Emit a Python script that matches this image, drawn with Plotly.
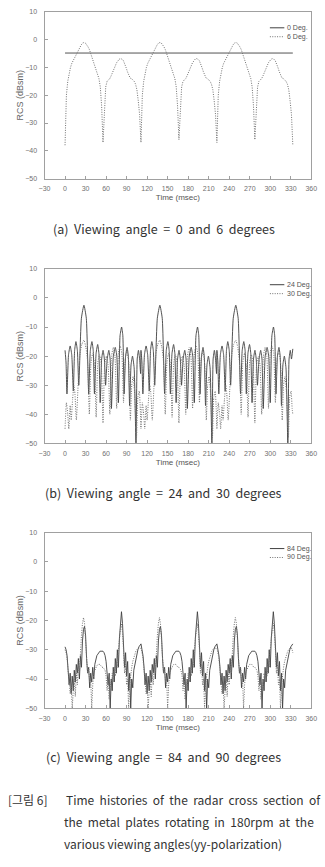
import numpy as np
import plotly.graph_objects as go

# ---------------- data ----------------
x_ticks = [-30, 0, 30, 60, 90, 120, 150, 180, 210, 240, 270, 300, 330, 360]
y_ticks = [-50, -40, -30, -20, -10, 0, 10]

# (a) 0 deg: flat line
a0_x = [0, 333]
a0_y = [-4.8, -4.8]
# (a) 6 deg, sampled every 111/56 ms from 0 to 333 ms
a6_y = [
    -38, -20, -15, -12, -10, -8.5, -7.5, -6.5, -5.5, -4.5, -3.5, -2.5, -1.8, -1.2,
    -1.0, -1.2, -1.8, -2.6, -3.6, -5, -6.5, -8, -9.5, -11, -12.5, -14, -17, -24,
    -37, -24, -17, -15, -14.5, -14, -13, -12, -11, -9.5, -8.3, -7.5, -7, -6.8,
    -7, -7.5, -8.5, -10, -11.5, -13, -13.8, -14, -14.5, -15, -16, -18, -22, -27,
    -37, -20, -15, -12, -10, -8.5, -7.5, -6.5, -5.5, -4.5, -3.5, -2.5, -1.8, -1.2,
    -1.0, -1.2, -1.8, -2.6, -3.6, -5, -6.5, -8, -9.5, -11, -12.5, -14, -17, -24,
    -36, -24, -17, -15, -14.5, -14, -13, -12, -11, -9.5, -8.3, -7.5, -7, -6.8,
    -7, -7.5, -8.5, -10, -11.5, -13, -13.8, -14, -14.5, -15, -16, -18, -22, -27,
    -37, -20, -15, -12, -10, -8.5, -7.5, -6.5, -5.5, -4.5, -3.5, -2.5, -1.8, -1.2,
    -1.0, -1.2, -1.8, -2.6, -3.6, -5, -6.5, -8, -9.5, -11, -12.5, -14, -17, -24,
    -36, -24, -17, -15, -14.5, -14, -13, -12, -11, -9.5, -8.3, -7.5, -7, -6.8,
    -7, -7.5, -8.5, -10, -11.5, -13, -13.8, -14, -14.5, -15, -16, -18, -22, -27,
    -38,
]
a6_x = np.linspace(0, 333, len(a6_y))

# (b) 24 deg
b24_x = [0, 1.4, 2.8, 5.1, 7.5, 9.8, 12.1, 14.0, 15.9, 18.0, 20.1, 23.9, 27.6, 31.1, 34.6, 37.0, 39.3, 41.2, 43.0, 45.4,
         47.7, 49.5, 51.4, 53.5, 55.6, 57.5, 59.3, 61.6, 64.0, 65.9, 67.8, 70.6, 73.4, 75.7, 78.0, 80.4, 82.7, 84.5, 86.4,
         88.5, 90.7, 92.5, 94.4, 96.5, 98.6, 101.0, 103.7, 105.5, 107.3, 109.0, 110.5,
         111, 112.4, 113.8, 116.1, 118.5, 120.8, 123.1, 125.0, 126.9, 129.0, 131.1, 134.9, 138.6, 142.1, 145.6, 148.0, 150.3,
         152.2, 154.0, 156.4, 158.7, 160.5, 162.4, 164.5, 166.6, 168.5, 170.3, 172.6, 175.0, 176.9, 178.8, 181.6, 184.4,
         186.7, 189.0, 191.4, 193.7, 195.5, 197.4, 199.5, 201.7, 203.5, 205.4, 207.5, 209.6, 212.0, 214.7, 216.5, 218.3,
         220.0, 221.5,
         222, 223.4, 224.8, 227.1, 229.5, 231.8, 234.1, 236.0, 237.9, 240.0, 242.1, 245.9, 249.6, 253.1, 256.6, 259.0, 261.3,
         263.2, 265.0, 267.4, 269.7, 271.5, 273.4, 275.5, 277.6, 279.5, 281.3, 283.6, 286.0, 287.9, 289.8, 292.6, 295.4,
         297.7, 300.0, 302.4, 304.7, 306.5, 308.4, 310.5, 312.7, 314.5, 316.4, 318.5, 320.6, 323.0, 325.7, 327.5, 329.3,
         331.0, 333]
b24_y = [-18, -22, -33, -19.5, -16.5, -19.5, -32, -18, -15, -18, -30, -7, -2.5, -7, -33, -18, -15, -18, -33, -19,
         -16, -19, -36, -21, -18, -21, -30, -21, -18, -21, -38, -20, -17, -20, -36, -13, -10, -13, -33,
         -20, -17, -20, -37, -23, -20, -24, -50, -21, -18, -21, -26,
         -18, -22, -33, -19.5, -16.5, -19.5, -32, -18, -15, -18, -30, -7, -2.5, -7, -33, -18, -15,
         -18, -33, -19, -16, -19, -36, -21, -18, -21, -30, -21, -18, -21, -38, -20, -17,
         -20, -36, -13, -10, -13, -33, -20, -17, -20, -37, -23, -20, -24, -50, -21, -18,
         -21, -26,
         -18, -22, -33, -19.5, -16.5, -19.5, -32, -18, -15, -18, -30, -7, -2.5, -7, -33, -18, -15,
         -18, -33, -19, -16, -19, -36, -21, -18, -21, -30, -21, -18, -21, -38, -20, -17,
         -20, -36, -13, -10, -13, -33, -20, -17, -20, -37, -23, -20, -24, -50, -21, -18,
         -21, -17.5]
# (b) 30 deg
b30_x = [0, 2, 4, 5.5, 7.5, 9, 11, 13, 14.5, 16.5, 19.5, 22, 24.5, 27.6, 30.5, 33, 35.5, 38, 40.5, 43, 45.5, 48, 50.5, 53,
         55.5, 58, 60.5, 63, 65.5, 68, 70.5, 73, 75.5, 78, 80.5, 83, 85.5, 88, 90.5, 93, 95.5, 97.5, 99.5, 101.5, 104.5,
         106.5, 108.5, 110,
         111, 113, 115, 116.5, 118.5, 120, 122, 124, 125.5, 127.5, 130.5, 133, 135.5, 138.6, 141.5, 144, 146.5, 149, 151.5,
         154, 156.5, 159, 161.5, 164, 166.5, 169, 171.5, 174, 176.5, 179, 181.5, 184, 186.5, 189, 191.5, 194, 196.5, 199,
         201.5, 204, 206.5, 208.5, 210.5, 212.5, 215.5, 217.5, 219.5, 221,
         222, 224, 226, 227.5, 229.5, 231, 233, 235, 236.5, 238.5, 241.5, 244, 246.5, 249.6, 252.5, 255, 257.5, 260, 262.5,
         265, 267.5, 270, 272.5, 275, 277.5, 280, 282.5, 285, 287.5, 290, 292.5, 295, 297.5, 300, 302.5, 305, 307.5, 310,
         312.5, 315, 317.5, 319.5, 321.5, 323.5, 326.5, 328.5, 330.5, 332, 333]
b30_y = [-45, -36, -40, -45, -37, -42, -35, -30, -33, -42, -28, -19, -16, -14.5, -17, -22, -40, -22, -19, -23, -41, -22, -19.5, -23,
         -43, -23, -20, -23, -40, -20, -17, -20, -38, -19, -16.5, -19, -36, -21, -18.5, -22, -42, -30, -27, -32, -48,
         -34, -32, -38,
         -45, -36, -40, -45, -37, -42, -35, -30, -33, -42, -28, -19, -16, -14.5, -17, -22, -40, -22, -19,
         -23, -41, -22, -19.5, -23, -43, -23, -20, -23, -40, -20, -17, -20, -38, -19, -16.5, -19, -36, -21,
         -18.5, -22, -42, -30, -27, -32, -48, -34, -32, -38,
         -45, -36, -40, -45, -37, -42, -35, -30, -33, -42, -28, -19, -16, -14.5, -17, -22, -40, -22, -19,
         -23, -41, -22, -19.5, -23, -43, -23, -20, -23, -40, -20, -17, -20, -38, -19, -16.5, -19, -36, -21,
         -18.5, -22, -42, -30, -27, -32, -48, -34, -32, -38, -40]

# (c) 84 deg, sampled every 1.5 ms from 0 to 333 ms
c84_y = [
    -29, -30, -32, -36, -42, -38, -45, -39, -44, -37, -41, -35, -38, -33, -40, -32, -36, -27, -23, -22,
    -25, -33, -38, -36, -43, -38, -41, -36, -40, -35, -33, -32, -31.5, -31, -30.5, -30.5, -30.5, -30.5, -31, -32,
    -34, -37, -42, -38, -50, -40, -44, -36, -41, -33, -38, -30, -36, -26, -21, -17, -21, -28, -36, -31,
    -39, -34, -44, -38, -50, -40, -43, -37, -35, -33, -31.5, -30, -29, -28.5,
    -28, -30, -32, -36, -42, -38, -45, -39, -44, -37, -41, -35, -38, -33, -40, -32, -36, -27, -23, -22,
    -25, -33, -38, -36, -43, -38, -41, -36, -40, -35, -33, -32, -31.5, -31, -30.5, -30.5, -30.5, -30.5, -31, -32,
    -34, -37, -42, -38, -50, -40, -44, -36, -41, -33, -38, -30, -36, -26, -21, -17, -21, -28, -36, -31,
    -39, -34, -44, -38, -50, -40, -43, -37, -35, -33, -31.5, -30, -29, -28.5,
    -28, -30, -32, -36, -42, -38, -45, -39, -44, -37, -41, -35, -38, -33, -40, -32, -36, -27, -23, -22,
    -25, -33, -38, -36, -43, -38, -41, -36, -40, -35, -33, -32, -31.5, -31, -30.5, -30.5, -30.5, -30.5, -31, -32,
    -34, -37, -42, -38, -50, -40, -44, -36, -41, -33, -38, -30, -36, -26, -21, -17, -21, -28, -36, -31,
    -39, -34, -44, -38, -50, -40, -43, -37, -35, -33, -31.5, -30, -29, -28.5,
    -28,
]
# (c) 90 deg
c90_y = [
    -30, -31, -33, -37, -40, -45, -42, -50, -44, -40, -46, -38, -42, -35, -38, -30, -25, -21, -19, -21,
    -27, -34, -38, -36, -41, -40, -50, -42, -38, -37, -36, -35.5, -35, -35, -35, -35.5, -36, -36, -36.5, -37,
    -39, -44, -40, -47, -41, -44, -38, -41, -36, -39, -34, -36, -30, -26, -23, -21, -24, -30, -38, -35,
    -42, -40, -50, -42, -38, -36, -34, -32.5, -31.5, -30.5, -30, -29.5, -29.5, -29.5,
    -29.5, -31, -33, -37, -40, -45, -42, -50, -44, -40, -46, -38, -42, -35, -38, -30, -25, -21, -19, -21,
    -27, -34, -38, -36, -41, -40, -50, -42, -38, -37, -36, -35.5, -35, -35, -35, -35.5, -36, -36, -36.5, -37,
    -39, -44, -40, -47, -41, -44, -38, -41, -36, -39, -34, -36, -30, -26, -23, -21, -24, -30, -38, -35,
    -42, -40, -50, -42, -38, -36, -34, -32.5, -31.5, -30.5, -30, -29.5, -29.5, -29.5,
    -29.5, -31, -33, -37, -40, -45, -42, -50, -44, -40, -46, -38, -42, -35, -38, -30, -25, -21, -19, -21,
    -27, -34, -38, -36, -41, -40, -50, -42, -38, -37, -36, -35.5, -35, -35, -35, -35.5, -36, -36, -36.5, -37,
    -39, -44, -40, -47, -41, -44, -38, -41, -36, -39, -34, -36, -30, -26, -23, -21, -24, -30, -38, -35,
    -42, -40, -50, -42, -38, -36, -34, -32.5, -31.5, -30.5, -30, -29.5, -29.5, -29.5,
    -31,
]
c_x = np.linspace(0, 333, len(c84_y))

panel_names = [("0 Deg.", "6 Deg."), ("24 Deg.", "30 Deg."), ("84 Deg.", "90 Deg.")]
NB = "\u00a0"
panel_captions = [f"(a){NB} Viewing{NB} angle{NB} ={NB} 0{NB} and{NB} 6{NB} degrees",
                  f"(b){NB} Viewing{NB} angle{NB} ={NB} 24{NB} and{NB} 30{NB} degrees",
                  f"(c){NB} Viewing{NB} angle{NB} ={NB} 84{NB} and{NB} 90{NB} degrees"]

# ---------------- layout helpers ----------------
W, H = 325, 867
def py(p):
    return 1 - p / H
def px(p):
    return p / W

x_dom = [px(40), px(317)]
panels_px = [(8, 176), (267, 443), (533, 710)]

SOLID = "#404040"
DOT = "#707070"
DOTDASH = "1px,1.4px"
AX = "#a0a0a0"
TICKF = dict(family="Liberation Sans, Arial, sans-serif", size=7, color="#707070")

fig = go.Figure()
series = [
    (a0_x, a0_y, a6_x, a6_y, "linear"),
    (b24_x, b24_y, b30_x, b30_y, "spline"),
    (c_x, c84_y, c_x, c90_y, "linear"),
]
for i, (sx, sy, dx, dy, shape) in enumerate(series):
    xa = "x" if i == 0 else f"x{i+1}"
    ya = "y" if i == 0 else f"y{i+1}"
    fig.add_trace(go.Scatter(x=sx, y=sy, mode="lines", xaxis=xa, yaxis=ya, name=panel_names[i][0],
                             line=dict(color=SOLID, width=0.9, shape=shape, smoothing=0.5), showlegend=False))
    fig.add_trace(go.Scatter(x=dx, y=dy, mode="lines", xaxis=xa, yaxis=ya, name=panel_names[i][1],
                             line=dict(color=DOT, width=1, dash=DOTDASH, shape=shape, smoothing=0.5), showlegend=False))

layout = dict(width=W, height=H, margin=dict(l=0, r=0, t=0, b=0),
              paper_bgcolor="white", plot_bgcolor="white", showlegend=False)
annotations, shapes = [], []
for i, (top, bot) in enumerate(panels_px):
    sfx = "" if i == 0 else str(i + 1)
    layout["xaxis" + sfx] = dict(domain=x_dom, range=[-30, 360], tickvals=x_ticks, ticks="inside", ticklen=3,
                                 tickcolor=AX, showline=True, linecolor=AX, linewidth=1, mirror=True,
                                 showgrid=False, zeroline=False, tickfont=TICKF, anchor="y" + sfx,
                                 ticklabelstandoff=3,
                                 title=dict(text="Time (msec)", font=dict(family="Liberation Sans, Arial", size=8, color="#555"), standoff=3))
    layout["yaxis" + sfx] = dict(domain=[py(bot), py(top)], range=[-50, 10], tickvals=y_ticks, ticks="inside", ticklen=3,
                                 tickcolor=AX, showline=True, linecolor=AX, linewidth=1, mirror=True,
                                 showgrid=False, zeroline=False, tickfont=TICKF, anchor="x" + sfx,
                                 ticklabelstandoff=5,
                                 title=dict(text="RCS (dBsm)", font=dict(family="Liberation Sans, Arial", size=9, color="#666"), standoff=0))
    ly1, ly2 = top + 16, top + 25
    shapes.append(dict(type="line", xref="paper", yref="paper", x0=px(274), x1=px(289), y0=py(ly1), y1=py(ly1),
                       line=dict(color=SOLID, width=1)))
    shapes.append(dict(type="line", xref="paper", yref="paper", x0=px(274), x1=px(289), y0=py(ly2), y1=py(ly2),
                       line=dict(color=DOT, width=1, dash=DOTDASH)))
    for name, ly in zip(panel_names[i], (ly1, ly2)):
        annotations.append(dict(text=name, xref="paper", yref="paper", x=px(290), y=py(ly), xanchor="left", yanchor="middle",
                                showarrow=False, font=dict(family="Liberation Sans, Arial", size=7, color="#555")))
    cap_y = [226, 492, 759][i]
    annotations.append(dict(text=panel_captions[i], xref="paper", yref="paper", x=px(164), y=py(cap_y),
                            xanchor="center", yanchor="middle", showarrow=False,
                            font=dict(family="Noto Sans CJK KR, sans-serif", size=12.5, color="#333")))

CAPF = dict(family="Noto Sans CJK KR, sans-serif", size=12, color="#333")
cap_lines = [("[그림 6]", 0, 802),
             (f"Time{NB} histories{NB} of{NB} the{NB} radar{NB} cross{NB} section{NB} of", 60, 802),
             (f"the{NB} metal{NB} plates{NB} rotating{NB} in{NB} 180rpm{NB} at{NB} the", 58, 824),
             ("various viewing angles(yy-polarization)", 58, 846)]
for txt, xx, yy in cap_lines:
    annotations.append(dict(text=txt, xref="paper", yref="paper", x=px(xx), y=py(yy), xanchor="left", yanchor="middle",
                            showarrow=False, font=CAPF))
layout["annotations"] = annotations
layout["shapes"] = shapes
fig.update_layout(**layout)
fig.write_html("out.html")
